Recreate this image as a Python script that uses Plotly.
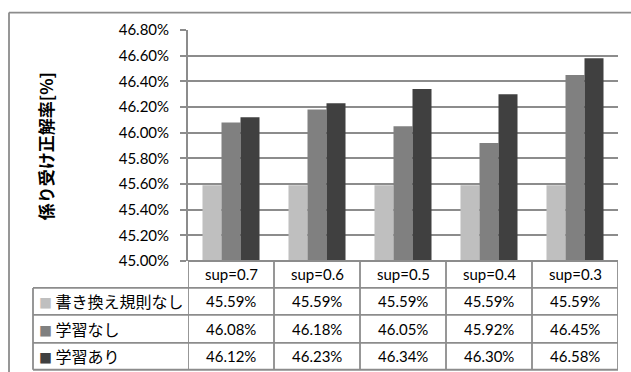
import plotly.graph_objects as go

# Data
categories = ["sup=0.7", "sup=0.6", "sup=0.5", "sup=0.4", "sup=0.3"]
series_names = ["書き換え規則なし", "学習なし", "学習あり"]
no_rules = [45.59, 45.59, 45.59, 45.59, 45.59]
no_learning = [46.08, 46.18, 46.05, 45.92, 46.45]
with_learning = [46.12, 46.23, 46.34, 46.30, 46.58]
y_title = "係り受け正解率[%]"

series_values = [no_rules, no_learning, with_learning]
colors = ["#BFBFBF", "#808080", "#404040"]

W, H = 631, 372
L, R, T, B = 188, 13, 29.5, 111
plot_w = W - L - R
plot_h = H - T - B

LINE = "#8c8c8c"
NUM_FONT = "Lato, 'Noto Sans CJK JP', sans-serif"
JP_FONT = "'Noto Sans CJK JP', sans-serif"


def px_x(x):
    """Pixel x -> paper x."""
    return (x - L) / plot_w


def px_y(y):
    """Pixel y (from top) -> paper y."""
    return (H - B - y) / plot_h


fig = go.Figure()
for name, vals, col in zip(series_names, series_values, colors):
    fig.add_trace(go.Bar(
        x=list(range(len(categories))),
        y=[v / 100 for v in vals],
        name=name,
        marker=dict(color=col, line=dict(width=0)),
        showlegend=False,
    ))

shapes = []
annotations = []

# Outer chart frame (top and left edges)
shapes.append(dict(type="line", xref="paper", yref="paper",
                   x0=px_x(9), x1=px_x(W + 5), y0=px_y(12), y1=px_y(12),
                   line=dict(color=LINE, width=1.8)))
shapes.append(dict(type="line", xref="paper", yref="paper",
                   x0=px_x(9), x1=px_x(9), y0=px_y(12), y1=px_y(H + 5),
                   line=dict(color=LINE, width=1.8)))

# Data table rows
row_edges = [261, 288, 315, 343, 370]
table_left = 33
for i, ry in enumerate(row_edges):
    x0 = px_x(L) if i == 0 else px_x(table_left)
    shapes.append(dict(type="line", xref="paper", yref="paper",
                       x0=x0, x1=1, y0=px_y(ry), y1=px_y(ry),
                       line=dict(color=LINE, width=1.8)))

# Data table columns
shapes.append(dict(type="line", xref="paper", yref="paper",
                   x0=px_x(table_left), x1=px_x(table_left),
                   y0=px_y(row_edges[1]), y1=px_y(row_edges[-1]),
                   line=dict(color=LINE, width=1.8)))
for k in range(len(categories) + 1):
    shapes.append(dict(type="line", xref="x", yref="paper",
                       x0=k - 0.5, x1=k - 0.5,
                       y0=px_y(row_edges[0]), y1=px_y(row_edges[-1]),
                       line=dict(color=LINE, width=1.8)))

# Header row: category names
for k, c in enumerate(categories):
    annotations.append(dict(
        x=k, y=px_y((row_edges[0] + row_edges[1]) / 2), xref="x", yref="paper",
        text=c, showarrow=False, xanchor="center", yanchor="middle",
        font=dict(family=NUM_FONT, size=15, color="#000")))

# Value rows with legend keys
for r, (name, vals, col) in enumerate(zip(series_names, series_values, colors)):
    yc = px_y((row_edges[r + 1] + row_edges[r + 2]) / 2)
    annotations.append(dict(
        x=px_x(37), y=yc, xref="paper", yref="paper",
        text=f"<span style='color:{col};font-size:13px'>■</span> {name}",
        showarrow=False, xanchor="left", yanchor="middle",
        font=dict(family=JP_FONT, size=16, color="#000")))
    for k, v in enumerate(vals):
        annotations.append(dict(
            x=k, y=yc, xref="x", yref="paper",
            text=f"{v:.2f}%", showarrow=False, xanchor="center", yanchor="middle",
            font=dict(family=NUM_FONT, size=15, color="#000")))

# Vertical axis title
annotations.append(dict(
    x=px_x(45), y=px_y(146), xref="paper", yref="paper",
    text=f"<b>{y_title}</b>", textangle=-90, showarrow=False,
    xanchor="center", yanchor="middle",
    font=dict(family=JP_FONT, size=17, color="#000")))

fig.update_layout(
    width=W, height=H,
    margin=dict(l=L, r=R, t=T, b=B, pad=0),
    paper_bgcolor="white", plot_bgcolor="white",
    barmode="group", bargap=0.337, bargroupgap=0,
    shapes=shapes, annotations=annotations,
    xaxis=dict(range=[-0.5, len(categories) - 0.5], showticklabels=False,
               showgrid=False, zeroline=False, ticks="", fixedrange=True),
    yaxis=dict(range=[0.45, 0.468], dtick=0.002, tickformat=".2%",
               showgrid=True, gridcolor=LINE, gridwidth=1.8,
               showline=True, linecolor=LINE, linewidth=1.8,
               ticks="outside", ticklen=6, tickcolor=LINE, tickwidth=1.8,
               ticklabelstandoff=8, zeroline=False,
               tickfont=dict(family=NUM_FONT, size=15, color="#000")),
)

fig.write_html("out.html")
